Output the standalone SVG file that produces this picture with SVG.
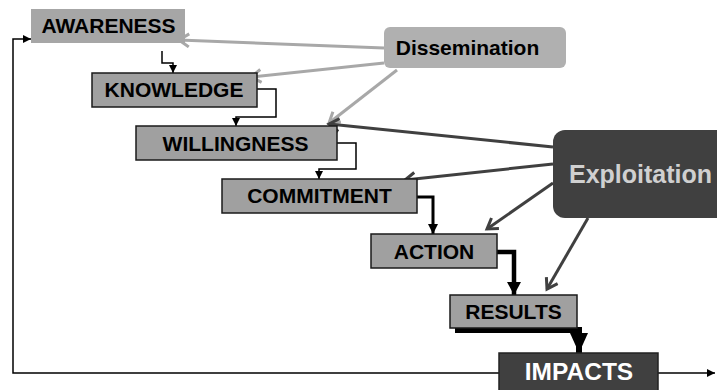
<svg xmlns="http://www.w3.org/2000/svg" width="717" height="390" viewBox="0 0 717 390">
<style>
.lbl{font-family:"Liberation Sans",Arial,sans-serif;font-weight:bold;font-size:21px;fill:#000;text-anchor:middle}
.box{fill:#a0a0a0;stroke:#1a1a1a;stroke-width:1.5}
.flow{fill:none;stroke:#000}
.dis{fill:none;stroke:#a8a8a8;stroke-width:3}
.exp{fill:none;stroke:#404040;stroke-width:3}
</style>
<defs>
<marker id="aS" markerUnits="userSpaceOnUse" markerWidth="8" markerHeight="8" refX="8" refY="4" orient="auto"><path d="M0,0L8,4L0,8z" fill="#000"/></marker>
<marker id="aM" markerUnits="userSpaceOnUse" markerWidth="11" markerHeight="11" refX="10" refY="5.5" orient="auto"><path d="M0,0.5L10,5.5L0,10.5z" fill="#000"/></marker>
<marker id="aL" markerUnits="userSpaceOnUse" markerWidth="14" markerHeight="15" refX="13" refY="7.5" orient="auto"><path d="M0,0.5L13,7.5L0,14.5z" fill="#000"/></marker>
<marker id="aXL" markerUnits="userSpaceOnUse" markerWidth="21" markerHeight="19" refX="20" refY="9.5" orient="auto"><path d="M0,0.5L20,9.5L0,18.5z" fill="#000"/></marker>
<marker id="vD" markerUnits="userSpaceOnUse" markerWidth="14" markerHeight="16" refX="11" refY="8" orient="auto"><path d="M1,1.5L11,8L1,14.5" fill="none" stroke="#a8a8a8" stroke-width="3"/></marker>
<marker id="vE" markerUnits="userSpaceOnUse" markerWidth="14" markerHeight="16" refX="11" refY="8" orient="auto"><path d="M1,1.5L11,8L1,14.5" fill="none" stroke="#404040" stroke-width="3"/></marker>
</defs>
<rect width="717" height="390" fill="#fff"/>
<g id="connectors">
<path class="flow" stroke-width="1.5" d="M162,51V63H173V73" marker-end="url(#aS)"/>
<path class="flow" stroke-width="1.5" d="M257,89H276V117H236V126" marker-end="url(#aS)"/>
<path class="flow" stroke-width="1.5" d="M337,143H356V169H319V179" marker-end="url(#aS)"/>
<path class="flow" stroke-width="3" d="M417,197H433V234" marker-end="url(#aM)"/>
<path class="flow" stroke-width="4.5" d="M497,252H514V295" marker-end="url(#aL)"/>
<path class="flow" stroke-width="6" d="M455,330H579V353" marker-end="url(#aXL)"/>
<path class="flow" stroke-width="1.5" d="M658,373H715" marker-end="url(#aS)"/>
<path class="flow" stroke-width="1.5" d="M499,373H13V39H31" marker-end="url(#aS)"/>
<line class="dis" x1="384" y1="48" x2="179" y2="40" stroke="#b4b4b4" marker-end="url(#vD)"/>
<line class="dis" x1="384" y1="63" x2="251" y2="77" marker-end="url(#vD)"/>
<line class="dis" x1="397" y1="70" x2="329" y2="123" stroke="#9c9c9c" marker-end="url(#vD)"/>
<line class="exp" x1="553" y1="147" x2="329" y2="124" marker-end="url(#vE)"/>
<line class="exp" x1="553" y1="164" x2="405" y2="180" marker-end="url(#vE)"/>
<line class="exp" x1="553" y1="183" x2="487" y2="229" marker-end="url(#vE)"/>
<line class="exp" x1="588" y1="218" x2="547" y2="289" marker-end="url(#vE)"/>
</g>
<g id="awareness"><rect x="31" y="9" width="154" height="34" fill="#a6a6a6"/><text class="lbl" x="108.5" y="33">AWARENESS</text></g>
<g id="knowledge"><rect class="box" x="92" y="73" width="165" height="34"/><text class="lbl" x="174" y="97">KNOWLEDGE</text></g>
<g id="willingness"><rect class="box" x="136" y="126" width="201" height="34"/><text class="lbl" x="235.5" y="151">WILLINGNESS</text></g>
<g id="commitment"><rect class="box" x="222" y="179" width="195" height="34"/><text class="lbl" x="319.5" y="203">COMMITMENT</text></g>
<g id="action"><rect class="box" x="371" y="234" width="126" height="34"/><text class="lbl" x="434" y="259">ACTION</text></g>
<g id="results"><rect class="box" x="450" y="295" width="127" height="33"/><text class="lbl" x="513.5" y="319">RESULTS</text></g>
<g id="impacts"><rect x="499" y="353" width="159" height="42" fill="#404040" stroke="#222" stroke-width="1.5"/><text class="lbl" x="579" y="380" style="font-size:24.5px;fill:#fff">IMPACTS</text></g>
<g id="dissemination"><rect x="384" y="27" width="182" height="41" rx="6" fill="#b0b0b0"/><text class="lbl" x="467.5" y="55">Dissemination</text></g>
<g id="exploitation"><rect x="553" y="130" width="180" height="88" rx="12" fill="#404040"/><text class="lbl" x="640.5" y="183" style="font-size:25px;fill:#d0d0d0">Exploitation</text></g>
</svg>
